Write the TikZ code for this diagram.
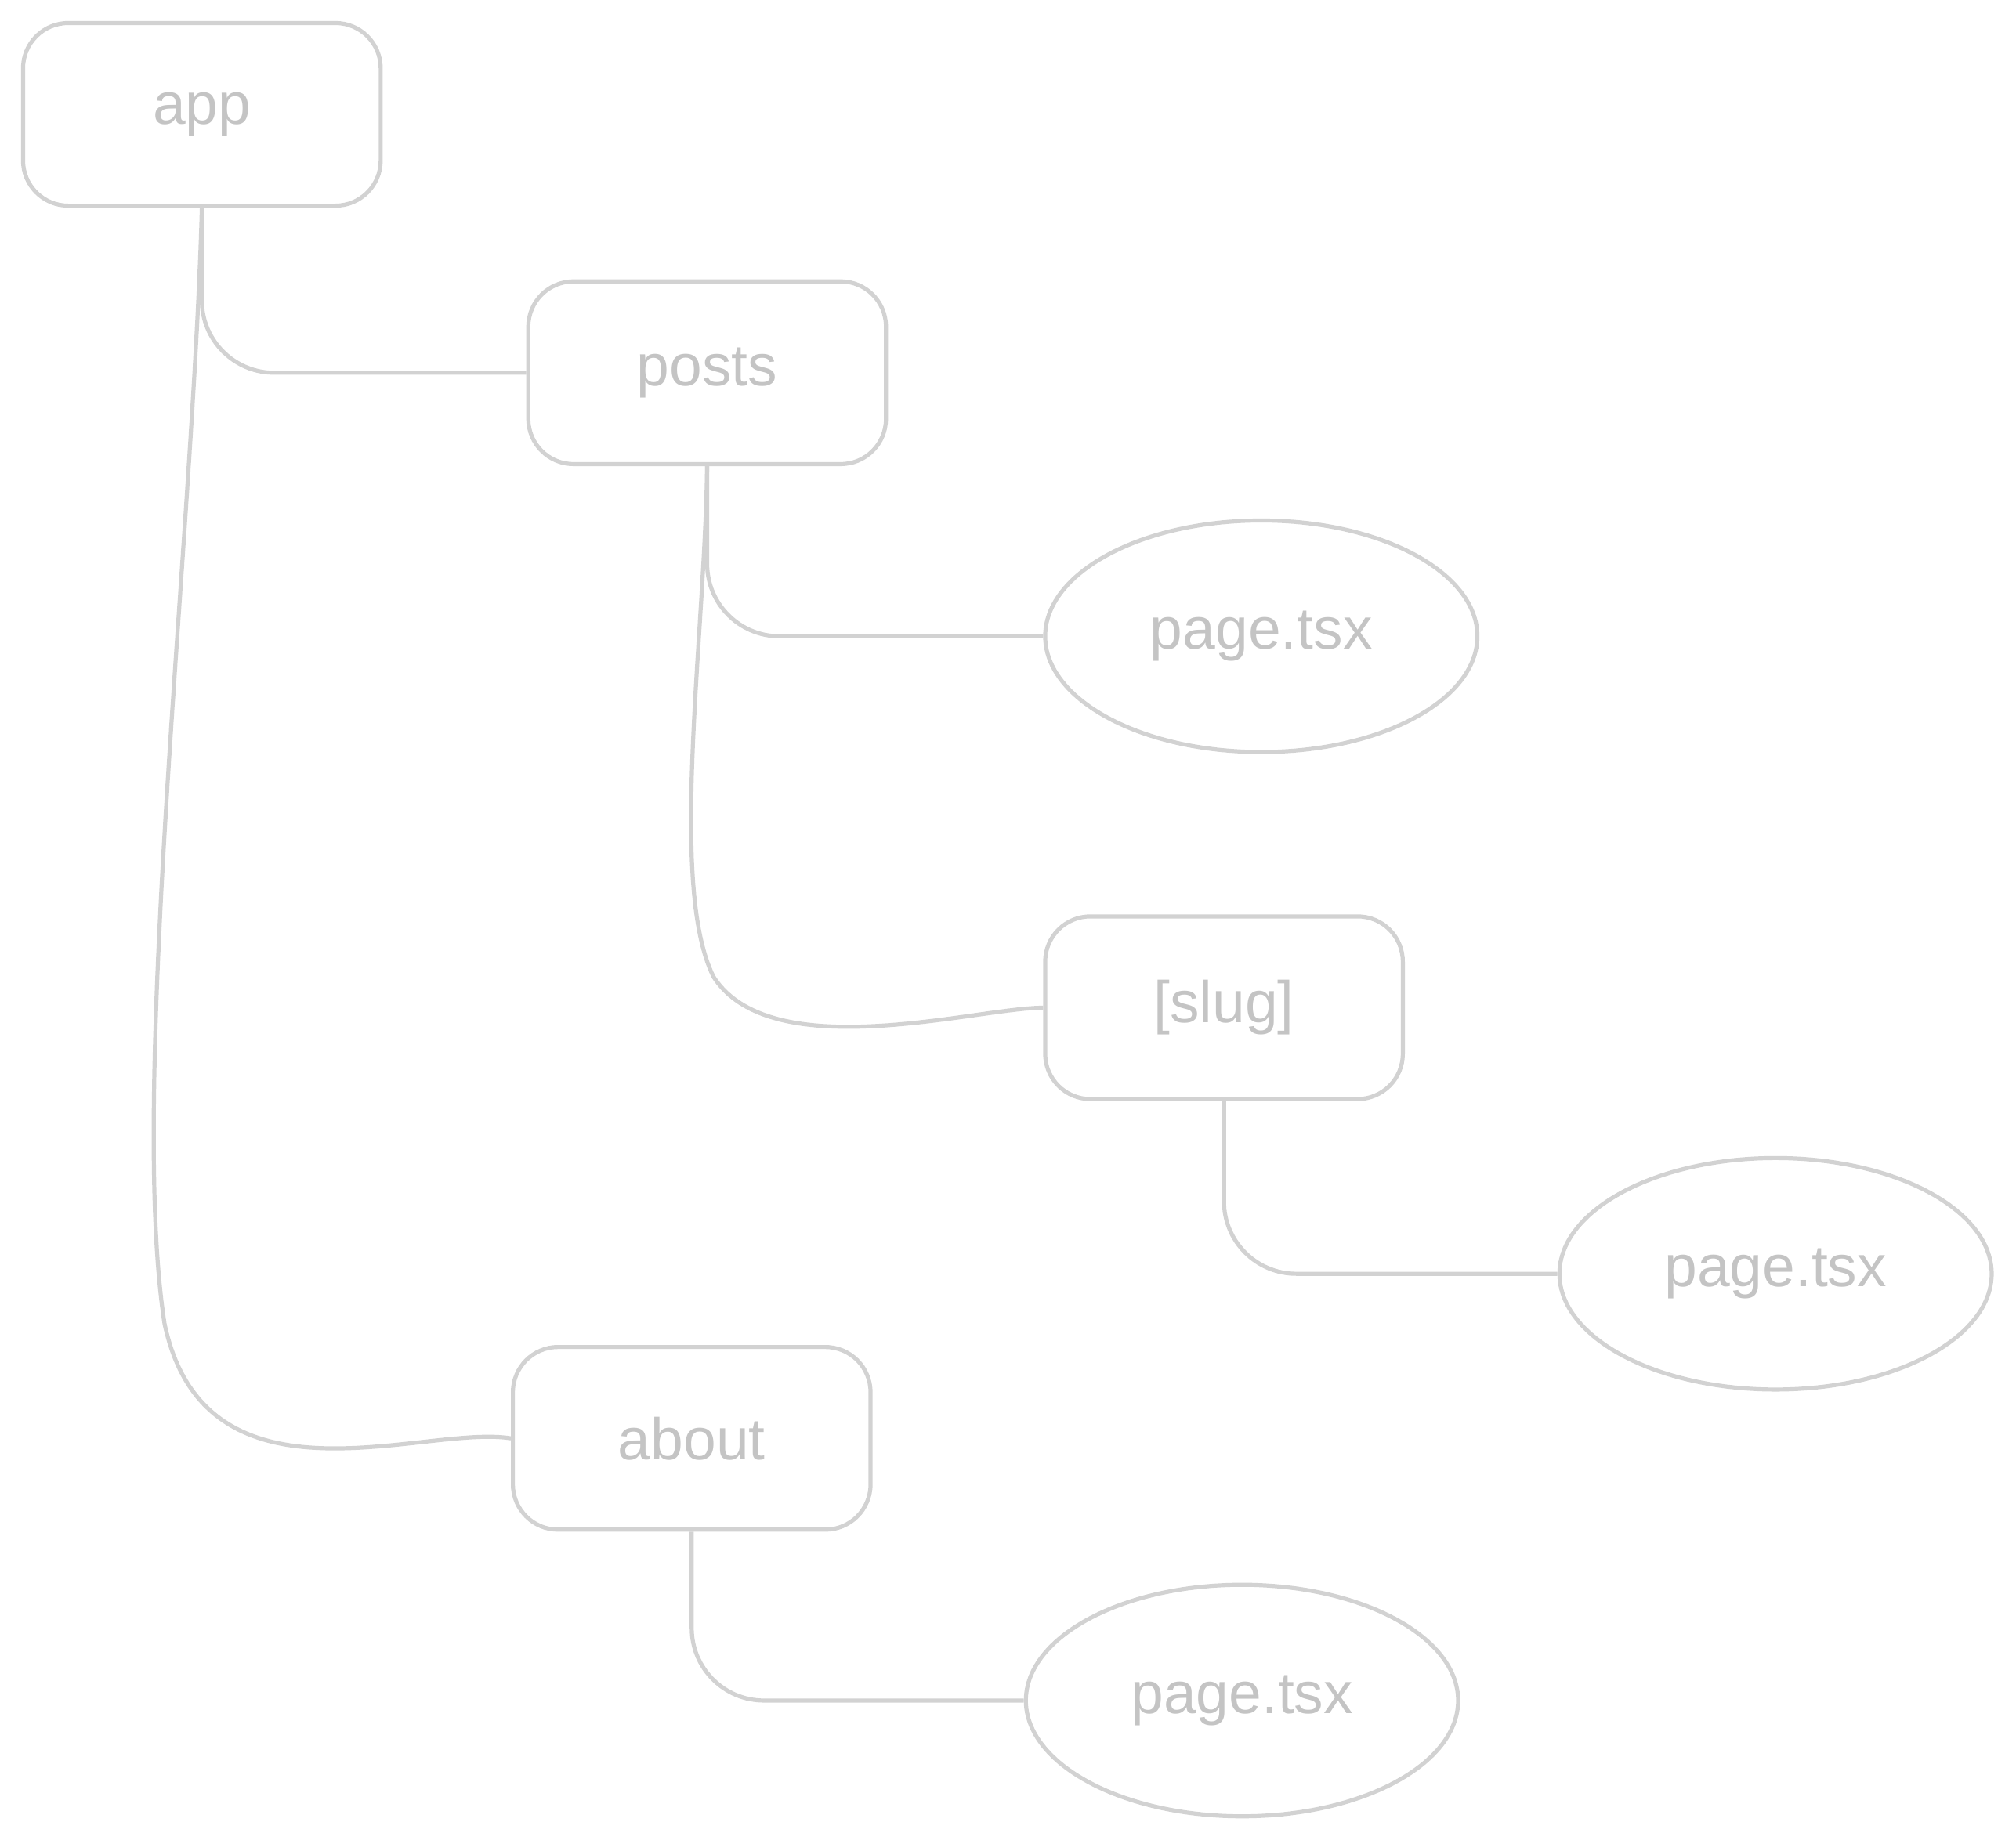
\documentclass[tikz,border=0pt]{standalone}
\usepackage{fontspec}
\setmainfont{Liberation Sans}
\usetikzlibrary{shapes.geometric}
\definecolor{inkgray}{HTML}{D2D2D2}
\definecolor{textgray}{HTML}{C4C4C4}
\begin{document}
\begin{tikzpicture}[
    x=0.01cm, y=-0.01cm,
    folder/.style={rectangle, draw=inkgray, line width=0.9pt, rounded corners=10pt, minimum width=2.78cm, minimum height=1.42cm, text=textgray, font=\fontsize{13}{15}\selectfont},
    file/.style={ellipse, draw=inkgray, line width=0.9pt, minimum width=3.36cm, minimum height=1.8cm, text=textgray, font=\fontsize{13}{15}\selectfont},
    link/.style={draw=inkgray, line width=0.9pt, rounded corners=16pt},
    longlink/.style={draw=inkgray, line width=0.9pt, sharp corners}
]
    \useasboundingbox (0,0) rectangle (1568,1431);

    \node[folder] (app) at (157,89) {app};
    \node[folder] (posts) at (550,290) {posts};
    \node[file] (postspage) at (981,495) {page.tsx};
    \node[folder] (slug) at (952,784) {[slug]};
    \node[file] (slugpage) at (1381,991) {page.tsx};
    \node[folder] (about) at (538,1119) {about};
    \node[file] (aboutpage) at (966,1323) {page.tsx};

    \draw[link] (app.south) |- (posts.west);
    % long bends
    \draw[longlink] (app.south) .. controls (150,420) and (100,850) .. (128,1030)
        .. controls (160,1180) and (330,1108) .. (about.west);
    \draw[link] (posts.south) |- (postspage.west);
    \draw[longlink] (posts.south) .. controls (548,500) and (520,690) .. (555,760)
        .. controls (600,830) and (760,784) .. (slug.west);
    \draw[link] (slug.south) |- (slugpage.west);
    \draw[link] (about.south) |- (aboutpage.west);
\end{tikzpicture}
\end{document}
